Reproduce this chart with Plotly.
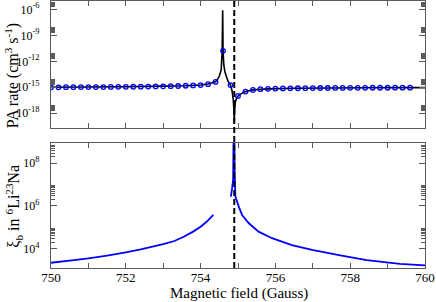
import plotly.graph_objects as go

# ---- data ----
# top panel: PA rate, solid black curve
B_line = [750.0, 751.0, 752.0, 753.0, 753.6, 754.0, 754.2, 754.4, 754.45, 754.5,
          754.55, 754.575, 754.585, 754.59, 754.595, 754.6, 754.62, 754.65, 754.7, 754.74,
          754.8, 754.84, 754.87, 754.89, 754.9, 754.91, 754.93, 754.96, 755.0, 755.1,
          755.2, 755.4, 755.8, 756.5, 757.5, 758.5, 759.5, 760.0]
rate_line = [1.0e-15, 1.07e-15, 1.17e-15, 1.35e-15, 1.51e-15, 1.82e-15, 2.4e-15, 4.4e-15, 7.9e-15, 2.0e-14,
             1.0e-13, 1.0e-11, 1.0e-8, 8.0e-7, 1.0e-8, 1.6e-11, 4.0e-13, 6.3e-14, 1.26e-14, 4.5e-15,
             1.8e-15, 4.0e-16, 5.0e-17, 3.2e-18, 8.0e-20, 2.5e-18, 2.0e-17, 5.0e-17, 1.0e-16, 2.0e-16,
             3.2e-16, 5.0e-16, 6.6e-16, 7.6e-16, 8.3e-16, 8.7e-16, 9.1e-16, 9.1e-16]

# top panel: PA rate, open blue circles
B_pts = [750.0, 750.2, 750.4, 750.6, 750.8, 751.0, 751.2, 751.4, 751.6, 751.8,
         752.0, 752.2, 752.4, 752.6, 752.8, 753.0, 753.2, 753.4, 753.6, 753.8,
         754.0, 754.2, 754.4, 754.6, 754.8, 755.0, 755.2, 755.4, 755.6, 755.8,
         756.0, 756.2, 756.4, 756.6, 756.8, 757.0, 757.2, 757.4, 757.6, 757.8,
         758.0, 758.2, 758.4, 758.6, 758.8, 759.0, 759.2, 759.4, 759.6]
rate_pts = [1.00e-15, 1.00e-15, 1.02e-15, 1.02e-15, 1.05e-15, 1.05e-15, 1.07e-15, 1.07e-15, 1.10e-15, 1.12e-15,
            1.12e-15, 1.15e-15, 1.17e-15, 1.20e-15, 1.26e-15, 1.29e-15, 1.35e-15, 1.41e-15, 1.51e-15, 1.66e-15,
            1.82e-15, 2.29e-15, 4.2e-15, 1.6e-11, 1.8e-15, 1.0e-16, 3.2e-16, 5.0e-16, 6.0e-16, 6.6e-16,
            7.1e-16, 7.4e-16, 7.6e-16, 7.8e-16, 7.9e-16, 8.1e-16, 8.3e-16, 8.3e-16, 8.5e-16, 8.5e-16,
            8.7e-16, 8.7e-16, 8.7e-16, 8.9e-16, 8.9e-16, 8.9e-16, 9.1e-16, 9.1e-16, 9.1e-16]

# bottom panel: xi_b (None = gap in the curve)
B_xi = [750.0, 750.5, 751.0, 751.5, 752.0, 752.4, 753.0, 753.3, 753.55, 753.8,
        754.0, 754.16, 754.34, None, 754.81, 754.84, 754.87, 754.885, 754.9, 754.91,
        754.93, 755.02, 755.11, 755.29, 755.55, 755.91, 756.44, 756.98, 757.7, 758.44,
        759.33, 760.0]
xi = [2190, 2750, 3550, 4790, 6760, 9330, 16200, 22900, 36300, 63100,
      107000, 182000, 380000, None, 2.75e6, 6.3e6, 1.66e7, 1e10, 1e10, 4e7,
      2.75e6, 9.3e5, 3.8e5, 1.55e5, 6.3e4, 3.1e4, 1.48e4, 8.7e3, 5.0e3, 2.9e3,
      1.95e3, 1.66e3]

B_resonance = 754.9

x_major = [750, 752, 754, 756, 758, 760]
x_minor = [751, 753, 755, 757, 759]
top_exps = [-18, -15, -12, -9, -6]
bot_exps = [4, 6, 8]

# ---- figure ----
FONT = "Liberation Serif"
AX = "#5a5a5a"

fig = go.Figure()
fig.add_trace(go.Scatter(x=B_line, y=rate_line, xaxis="x2", yaxis="y2", mode="lines",
                         line=dict(color="black", width=1.6, simplify=False),
                         showlegend=False))
fig.add_trace(go.Scatter(x=B_pts, y=rate_pts, xaxis="x2", yaxis="y2", mode="markers",
                         marker=dict(symbol="circle-open", size=4.5, color="#0000ff",
                                     line=dict(width=1.3, color="#0000ff")),
                         showlegend=False))
fig.add_trace(go.Scatter(x=B_xi, y=xi, xaxis="x", yaxis="y", mode="lines",
                         line=dict(color="#0000ff", width=1.8, simplify=False),
                         connectgaps=False, showlegend=False))

common_x = dict(range=[750, 760], tickmode="array", tickvals=x_major,
                ticktext=[str(v) for v in x_major],
                ticks="inside", ticklen=5, tickwidth=1, tickcolor=AX,
                minor=dict(tickmode="array", tickvals=x_minor, ticks="inside",
                           ticklen=5, tickwidth=1, tickcolor=AX),
                showline=True, linecolor=AX, linewidth=1.3, mirror="ticks",
                showgrid=False, zeroline=False,
                tickfont=dict(family=FONT, size=13, color="black"))

def minor_vals(exps):
    return [k * 10.0 ** e for e in exps for k in range(2, 10)]

common_y = dict(type="log", tickmode="array", ticks="inside", ticklen=6, tickwidth=1,
                tickcolor=AX, showline=True, linecolor=AX, linewidth=1.3, mirror="ticks",
                showgrid=False, zeroline=False, ticklabelstandoff=8,
                tickfont=dict(family=FONT, size=12, color="black"))

fig.update_layout(
    width=436, height=302,
    margin=dict(l=51, r=11, t=1, b=34),
    paper_bgcolor="white", plot_bgcolor="white",
    font=dict(family=FONT, color="black"),
    xaxis=dict(common_x, domain=[0, 1], anchor="y", ticklabelstandoff=-3),
    xaxis2=dict(common_x, domain=[0, 1], anchor="y2", matches="x", showticklabels=False),
    yaxis=dict(common_y, domain=[0, 0.4682], anchor="x", range=[3.096, 8.95],
               tickvals=[10.0 ** e for e in bot_exps],
               ticktext=["10<sup>%d</sup>" % e for e in bot_exps],
               minor=dict(tickmode="array", tickvals=minor_vals(bot_exps), ticks="inside",
                          ticklen=4, tickwidth=1, tickcolor=AX)),
    yaxis2=dict(common_y, domain=[0.5243, 1], anchor="x2", range=[-19.7, -5.04],
                tickvals=[10.0 ** e for e in top_exps],
                ticktext=["10<sup>%d</sup>" % e for e in top_exps],
                minor=dict(tickmode="array", tickvals=minor_vals(top_exps), ticks="inside",
                           ticklen=4, tickwidth=1, tickcolor=AX)),
    shapes=[dict(type="line", xref="x", yref="paper", x0=B_resonance, x1=B_resonance,
                 y0=0, y1=1, line=dict(color="black", width=2, dash="6px,3px"))],
    annotations=[
        dict(text="PA rate (cm<sup>3</sup> s<sup>-1</sup>)", xref="paper", yref="paper",
             x=-0.103, y=0.72, xanchor="center", yanchor="middle", textangle=-90,
             showarrow=False, font=dict(family=FONT, size=16, color="black")),
        dict(text="ξ<sub>b</sub> in <sup>6</sup>Li<sup>23</sup>Na", xref="paper", yref="paper",
             x=-0.1, y=0.232, xanchor="center", yanchor="middle", textangle=-90,
             showarrow=False, font=dict(family=FONT, size=16, color="black")),
        dict(text="Magnetic field (Gauss)", xref="paper", yref="paper",
             x=0.503, y=-0.0955, xanchor="center", yanchor="middle", showarrow=False,
             font=dict(family=FONT, size=15, color="black")),
    ],
)

fig.write_html("out.html", config={"displayModeBar": False},
               post_script="document.body.style.margin='0';")
